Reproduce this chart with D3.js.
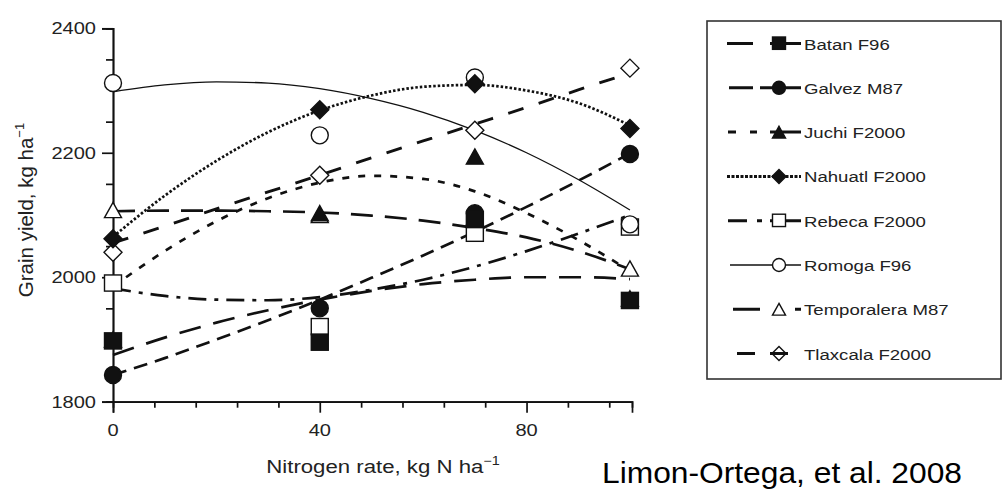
<!DOCTYPE html>
<html>
<head>
<meta charset="utf-8">
<script src="https://cdn.jsdelivr.net/npm/d3@7"></script>
<style>
  body { margin: 0; background: #fff; }
  text { font-family: "Liberation Sans", Arial, sans-serif; fill: #222; }
</style>
</head>
<body>
<svg id="chart" width="1005" height="490"></svg>
<script>
// Nitrogen rates where yield was measured
const rates = [0, 40, 70, 100];
// Rates at which the fitted response curves are listed
const fitRates = [0, 10, 20, 30, 40, 50, 60, 70, 80, 90, 100];

const varieties = ["Batan F96", "Galvez M87", "Juchi F2000", "Nahuatl F2000",
                   "Rebeca F2000", "Romoga F96", "Temporalera M87", "Tlaxcala F2000"];

// Measured grain yield, kg/ha
const batanObs       = [1897, 1895, 2092, 1962];
const galvezObs      = [1843, 1950, 2103, 2198];
const juchiObs       = [1900, 2103, 2194, 1966];
const nahuatlObs     = [2062, 2269, 2311, 2239];
const rebecaObs      = [1990, 1920, 2070, 2080];
const romogaObs      = [2312, 2228, 2321, 2085];
const temporaleraObs = [2108, 2100, 2095, 2014];
const tlaxcalaObs    = [2040, 2164, 2236, 2336];

// Fitted response curves, kg/ha at each fit rate
const batanFit       = [1875, 1903, 1927, 1947, 1964, 1978, 1989, 1996, 2000, 2000, 1997];
const galvezFit      = [1843, 1870, 1900, 1931, 1964, 1999, 2035, 2073, 2113, 2155, 2199];
const juchiFit       = [1985, 2042, 2090, 2127, 2152, 2163, 2158, 2138, 2103, 2060, 2010];
const nahuatlFit     = [2065, 2131, 2187, 2233, 2268, 2292, 2306, 2309, 2300, 2280, 2244];
const rebecaFit      = [1982, 1970, 1964, 1963, 1968, 1980, 1996, 2017, 2042, 2070, 2100];
const romogaFit      = [2298, 2309, 2314, 2312, 2303, 2287, 2265, 2236, 2200, 2157, 2108];
const temporaleraFit = [2106, 2107, 2107, 2106, 2104, 2099, 2091, 2079, 2064, 2042, 2013];
const tlaxcalaFit    = [2055, 2082, 2110, 2137, 2164, 2192, 2219, 2246, 2273, 2301, 2328];

const xTickLabels = [0, 40, 80];
const yTickLabels = [1800, 2000, 2200, 2400];
const xTitle = "Nitrogen rate, kg N ha";
const yTitle = "Grain yield, kg ha";
const citation = "Limon-Ortega, et al. 2008";

const obsList = [batanObs, galvezObs, juchiObs, nahuatlObs, rebecaObs, romogaObs, temporaleraObs, tlaxcalaObs];
const fitList = [batanFit, galvezFit, juchiFit, nahuatlFit, rebecaFit, romogaFit, temporaleraFit, tlaxcalaFit];

// Drawing style per variety: marker shape, filled or open, curve dash and legend dash
const styles = [
  { shape: "square",   filled: true,  dash: "22,13",    width: 2.7, key: "26,17,58",        kx: 727 },
  { shape: "circle",   filled: true,  dash: "14,8",     width: 2.7, key: "24,7,60",         kx: 729 },
  { shape: "triangle", filled: true,  dash: "7,9",      width: 2.7, key: "8,14,7,13,60",    kx: 728 },
  { shape: "diamond",  filled: true,  dash: "2.5,2",    width: 2.7, key: "3,1.5",           kx: 727 },
  { shape: "square",   filled: false, dash: "18,8,4,8", width: 2.7, key: "19,10,5,8,60",    kx: 728 },
  { shape: "circle",   filled: false, dash: null,       width: 1.3, key: null,              kx: 730 },
  { shape: "triangle", filled: false, dash: "22,12",    width: 2.7, key: "27,35,7,60",      kx: 733 },
  { shape: "diamond",  filled: false, dash: "16,16",    width: 2.9, key: "18,15,18,60",     kx: 737 }
];

const svg = d3.select("#chart");

const x = d3.scaleLinear().domain([0, 100.4]).range([113, 632]);
const y = d3.scaleLinear().domain([1800, 2400]).range([401.7, 28.3]);

// Axes (tick labels are set separately so they can be widened)
const yAxisMajor = d3.axisLeft(y).tickValues(yTickLabels).tickSize(11).tickFormat("");
const yAxisMinor = d3.axisLeft(y).tickValues(d3.range(1850, 2400, 100)).tickSize(7).tickFormat("");
const xAxisMajor = d3.axisBottom(x).tickValues(xTickLabels).tickSize(11).tickFormat("");
const xAxisMinor = d3.axisBottom(x).tickValues([8, 16, 24, 32, 48, 56, 64, 72, 88, 96]).tickSize(6).tickFormat("");

function styleAxis(g) {
  g.select(".domain").attr("stroke", "#111").attr("stroke-width", 1.7);
  g.selectAll(".tick line").attr("stroke", "#111").attr("stroke-width", 1.7);
}

svg.append("g").attr("transform", "translate(113,0)").call(yAxisMinor).call(styleAxis);
svg.append("g").attr("transform", "translate(113,0)").call(yAxisMajor).call(styleAxis);
svg.append("g").attr("transform", "translate(0,401.7)").call(xAxisMinor).call(styleAxis);
svg.append("g").attr("transform", "translate(0,401.7)").call(xAxisMajor).call(styleAxis);

// Horizontally widened text helper
function wideText(g, tx, ty, str, size, sx, anchor) {
  return g.append("text")
    .attr("transform", `translate(${tx},${ty}) scale(${sx},1)`)
    .attr("text-anchor", anchor)
    .attr("font-size", size)
    .text(str);
}

const labels = svg.append("g");
yTickLabels.forEach(v => wideText(labels, 96, y(v) + 6, d3.format("d")(v), 17, 1.18, "end"));
xTickLabels.forEach(v => wideText(labels, x(v), 436, d3.format("d")(v), 17, 1.18, "middle"));

// Axis titles
const yt = svg.append("text")
  .attr("transform", "translate(33,210) rotate(-90)")
  .attr("text-anchor", "middle").attr("font-size", 20.5);
yt.append("tspan").text(yTitle);
yt.append("tspan").text("\u22121").attr("font-size", 13).attr("dy", -9);

const xt = svg.append("text")
  .attr("transform", "translate(383,473) scale(1.2,1)")
  .attr("text-anchor", "middle").attr("font-size", 18.5);
xt.append("tspan").text(xTitle);
xt.append("tspan").text("\u22121").attr("font-size", 12).attr("dy", -8);

// Fitted curves
const line = d3.line()
  .x((d, i) => x(fitRates[i]))
  .y(d => y(d))
  .curve(d3.curveMonotoneX);

const curves = svg.append("g");
fitList.forEach((fit, k) => {
  const s = styles[k];
  curves.append("path")
    .attr("d", line(fit))
    .attr("fill", "none")
    .attr("stroke", "#111")
    .attr("stroke-width", s.width)
    .attr("stroke-dasharray", s.dash);
});

// Marker shapes
function marker(g, shape, filled, cx, cy, size, openFill) {
  const fill = filled ? "#111" : (openFill || "#fff");
  const sw = 1.4;
  if (shape === "square") {
    g.append("rect").attr("x", cx - size / 2).attr("y", cy - size / 2)
      .attr("width", size).attr("height", size * 0.95)
      .attr("fill", fill).attr("stroke", "#111").attr("stroke-width", sw);
  } else if (shape === "circle") {
    g.append("circle").attr("cx", cx).attr("cy", cy).attr("r", size / 2)
      .attr("fill", fill).attr("stroke", "#111").attr("stroke-width", sw);
  } else if (shape === "triangle") {
    const h = size * 0.9;
    g.append("path")
      .attr("d", `M${cx},${cy - h / 2}L${cx + size / 2},${cy + h / 2}L${cx - size / 2},${cy + h / 2}Z`)
      .attr("fill", fill).attr("stroke", "#111").attr("stroke-width", sw);
  } else if (shape === "diamond") {
    const r = size / 2 + 0.5;
    g.append("path")
      .attr("d", `M${cx},${cy - r}L${cx + r},${cy}L${cx},${cy + r}L${cx - r},${cy}Z`)
      .attr("fill", fill).attr("stroke", "#111").attr("stroke-width", sw);
  }
}

// Open symbols go underneath; solid symbols are stacked on top, first variety uppermost
const marks = svg.append("g");
const order = d3.range(styles.length).filter(k => !styles[k].filled)
  .concat(d3.range(styles.length).filter(k => styles[k].filled).reverse());
order.forEach(k => {
  const s = styles[k];
  obsList[k].forEach((v, i) => marker(marks, s.shape, s.filled, x(rates[i]), y(v), 17));
});

// Legend
const legend = svg.append("g");
legend.append("rect").attr("x", 707).attr("y", 21).attr("width", 294).attr("height", 358)
  .attr("fill", "none").attr("stroke", "#333").attr("stroke-width", 1.6);

varieties.forEach((name, k) => {
  const s = styles[k];
  const ly = 43.5 + k * 44.3;
  legend.append("line").attr("x1", s.kx).attr("x2", 801).attr("y1", ly).attr("y2", ly)
    .attr("stroke", "#111").attr("stroke-width", k === 5 ? 1.3 : 3)
    .attr("stroke-dasharray", s.key);
  marker(legend, s.shape, s.filled, 779, ly, 13, k === 7 ? "none" : null);
  wideText(legend, 804, ly + 6, name, 15.5, 1.2, "start");
});

// Source note
svg.append("text").attr("x", 602).attr("y", 483).attr("font-size", 29)
  .attr("textLength", 360).attr("lengthAdjust", "spacingAndGlyphs")
  .style("fill", "#000").text(citation);
</script>
</body>
</html>
